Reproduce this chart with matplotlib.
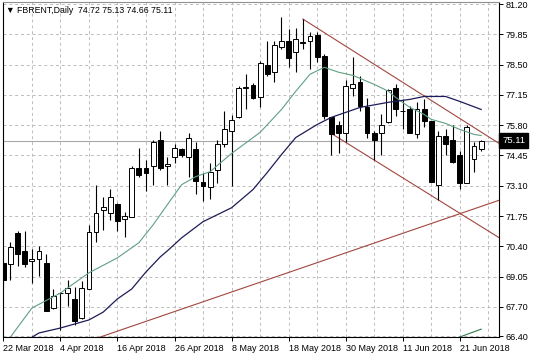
import matplotlib
matplotlib.use("Agg")
import matplotlib.pyplot as plt
import matplotlib.transforms as mtransforms
import pandas as pd

plt.rcParams['font.family'] = ['Liberation Sans', 'DejaVu Sans']

# trading days shown (Good Friday closed)
dates = pd.bdate_range("2018-03-22", "2018-06-26", freq="C", holidays=["2018-03-30"])

opens = [69.66, 69.62, 71.00, 70.20, 69.75, 69.84, 69.66, 67.65, 68.30, 68.32,
         68.06, 67.21, 68.50, 71.05, 72.03, 71.90, 72.30, 71.63, 71.72, 73.87,
         73.91, 74.00, 75.16, 74.00, 74.36, 74.72, 74.40, 74.72, 73.29, 73.06,
         73.82, 74.98, 75.56, 76.15, 77.47, 77.58, 77.04, 78.47, 78.16, 79.28,
         79.54, 79.05, 79.50, 79.54, 79.81, 78.87, 76.15, 75.83, 75.47, 77.44,
         77.71, 76.59, 75.47, 75.47, 75.92, 77.44, 76.41, 76.50, 75.39, 76.50,
         75.97, 73.15, 75.30, 75.16, 74.45, 73.24, 74.31, 74.72]
highs = [69.71, 70.60, 71.09, 71.09, 70.29, 70.42, 70.07, 68.50, 68.37, 68.90,
         68.59, 68.86, 71.36, 73.15, 72.61, 72.97, 72.32, 71.94, 73.96, 74.80,
         74.27, 75.16, 75.56, 74.40, 74.98, 74.80, 75.47, 75.03, 73.69, 74.13,
         75.12, 76.41, 76.24, 77.53, 78.07, 77.66, 78.65, 79.54, 79.54, 80.62,
         80.08, 80.12, 80.53, 79.95, 79.95, 78.96, 76.16, 75.97, 77.80, 78.83,
         77.98, 77.00, 75.56, 76.28, 77.40, 77.62, 76.95, 76.64, 76.82, 76.95,
         75.99, 75.52, 75.61, 75.83, 74.63, 75.79, 75.07, 75.13]
lows = [68.59, 68.90, 69.53, 69.49, 68.77, 69.08, 67.50, 67.60, 66.67, 67.74,
        66.89, 67.16, 68.48, 70.60, 71.14, 71.59, 71.09, 70.83, 71.70, 73.51,
        72.88, 73.15, 73.82, 73.15, 74.13, 74.40, 73.51, 72.75, 72.44, 72.53,
        73.24, 74.85, 73.11, 76.12, 76.50, 76.98, 76.59, 77.98, 77.71, 79.19,
        78.38, 78.16, 79.19, 78.29, 78.60, 76.06, 74.49, 74.58, 75.07, 77.08,
        76.41, 75.25, 74.27, 74.49, 75.90, 76.19, 75.61, 75.45, 75.25, 75.74,
        73.27, 72.48, 74.45, 74.13, 72.97, 73.22, 73.73, 74.66]
closes = [68.90, 70.38, 70.07, 69.62, 69.84, 70.20, 67.52, 68.19, 68.33, 68.55,
          67.07, 68.55, 71.05, 71.90, 72.17, 72.61, 71.54, 71.77, 73.91, 73.60,
          73.69, 75.07, 73.91, 74.09, 74.80, 74.45, 75.25, 73.33, 73.11, 73.73,
          74.98, 75.61, 76.01, 77.44, 77.51, 77.00, 78.56, 78.07, 79.37, 79.54,
          78.78, 79.63, 79.48, 79.77, 78.83, 76.19, 75.39, 75.43, 77.53, 77.62,
          76.64, 75.47, 75.16, 75.79, 77.35, 76.50, 76.43, 75.47, 76.50, 75.97,
          73.29, 75.30, 74.98, 74.18, 73.24, 75.74, 74.89, 75.11]

# moving averages (bar index, price)
fast_ma_bars = [1, 4, 8, 12, 16, 19, 21, 22, 23, 25, 27, 29, 32, 36, 39, 41, 43, 45,
                47, 49, 52, 54, 55, 57, 59, 60, 62, 64, 66, 67]
fast_ma_vals = [66.36, 67.65, 68.32, 69.22, 69.89, 70.56, 71.36, 71.81, 72.26, 73.15,
                73.51, 73.73, 74.54, 75.48, 76.50, 77.31, 78.07, 78.38, 78.16, 78.02,
                77.62, 77.31, 77.04, 76.59, 76.28, 76.06, 75.88, 75.61, 75.39, 75.34]
slow_ma_bars = [4, 5, 8, 11, 12, 14, 16, 18, 20, 22, 23, 25, 28, 32, 35, 37, 39, 41,
                44, 46, 48, 50, 54, 57, 59, 62, 64, 67]
slow_ma_vals = [66.35, 66.54, 66.76, 67.03, 67.12, 67.47, 68.06, 68.50, 69.26, 69.93,
                70.20, 70.78, 71.50, 72.12, 72.93, 73.69, 74.49, 75.25, 75.83, 76.15,
                76.37, 76.59, 76.82, 76.95, 77.08, 77.08, 76.86, 76.50]

# trend lines (bar index, price)
upper_bars, upper_prices = [42, 69.75], [80.53, 74.94]
lower_bars, lower_prices = [46, 69.75], [75.43, 70.74]
rising_bars, rising_prices = [13.6, 69.75], [66.36, 72.48]
seg_bars, seg_prices = [64, 67], [66.36, 66.71]

price_ticks = [81.20, 79.85, 78.50, 77.15, 75.80, 74.45, 73.10, 71.75, 70.40, 69.05, 67.70, 66.40]

fig = plt.figure(figsize=(5.36, 3.57), dpi=100)
ax = fig.add_axes([3 / 536, 1 - 337 / 357, 496 / 536, 335 / 357])

x = list(range(len(opens)))

# candles
ax.vlines(x, lows, highs, color='black', lw=0.8, zorder=3)
bottoms = [min(o, c) for o, c in zip(opens, closes)]
heights = [max(abs(c - o), 0.015) for o, c in zip(opens, closes)]
colors = ['white' if c >= o else 'black' for o, c in zip(opens, closes)]
ax.bar(x, heights, bottom=bottoms, width=0.68, color=colors, edgecolor='black',
       linewidth=0.7, zorder=4)

# moving averages
ax.plot(fast_ma_bars, fast_ma_vals, color='#5f9f82', lw=0.8, zorder=5)
ax.plot(slow_ma_bars, slow_ma_vals, color='#1c1c58', lw=0.9, zorder=5)

# trend lines
tl = '#a2463f'
ax.plot(upper_bars, upper_prices, color=tl, lw=0.8, zorder=2)
ax.plot(lower_bars, lower_prices, color=tl, lw=0.8, zorder=2)
ax.plot(rising_bars, rising_prices, color=tl, lw=0.8, zorder=2)
ax.plot(seg_bars, seg_prices, color='#2f7a45', lw=0.8, zorder=2)

# bid line
ax.axhline(closes[-1], color='#a8a8a8', lw=0.8, zorder=1)

ax.set_xlim(-0.05, 69.5)
ax.set_ylim(66.36, 81.29)

# axes, ticks, grid
ax.yaxis.tick_right()
ax.set_yticks(price_ticks)
ax.set_yticklabels([f"{p:.2f}" for p in price_ticks], fontsize=6.5)
label_idx = list(range(0, len(dates), 8))
ax.set_xticks(label_idx)
ax.set_xticklabels([f"{dates[i].day} {dates[i]:%b %Y}" for i in label_idx],
                   fontsize=6.5, ha='left')
ax.set_xticks(list(range(0, 70, 4)), minor=True)
ax.tick_params(axis='both', length=3, width=0.7, pad=2, colors='black')
ax.tick_params(axis='x', which='minor', length=0)
ax.grid(True, which='both', color='#bcbcbc', lw=0.7, linestyle=(0, (3, 3)), zorder=0)

for s in ax.spines.values():
    s.set_linewidth(0.8)
    s.set_color('black')
ax.spines['top'].set_color('#909090')

# current price tag
trans = mtransforms.blended_transform_factory(ax.transAxes, ax.transData)
ax.text(1.006, closes[-1], f"{closes[-1]:.2f}", transform=trans, ha='left', va='center',
        fontsize=6.8, color='white', zorder=6,
        bbox=dict(boxstyle='square,pad=0.35', fc='black', ec='black'))

# header
ax.text(0.006, 0.988,
        f"\u25bc FBRENT,Daily  {opens[-1]:.2f} {highs[-1]:.2f} {lows[-1]:.2f} {closes[-1]:.2f}",
        transform=ax.transAxes, ha='left', va='top', fontsize=6.3,
        family=['Liberation Sans', 'DejaVu Sans'], zorder=6)

fig.savefig("out.png", dpi=100)
